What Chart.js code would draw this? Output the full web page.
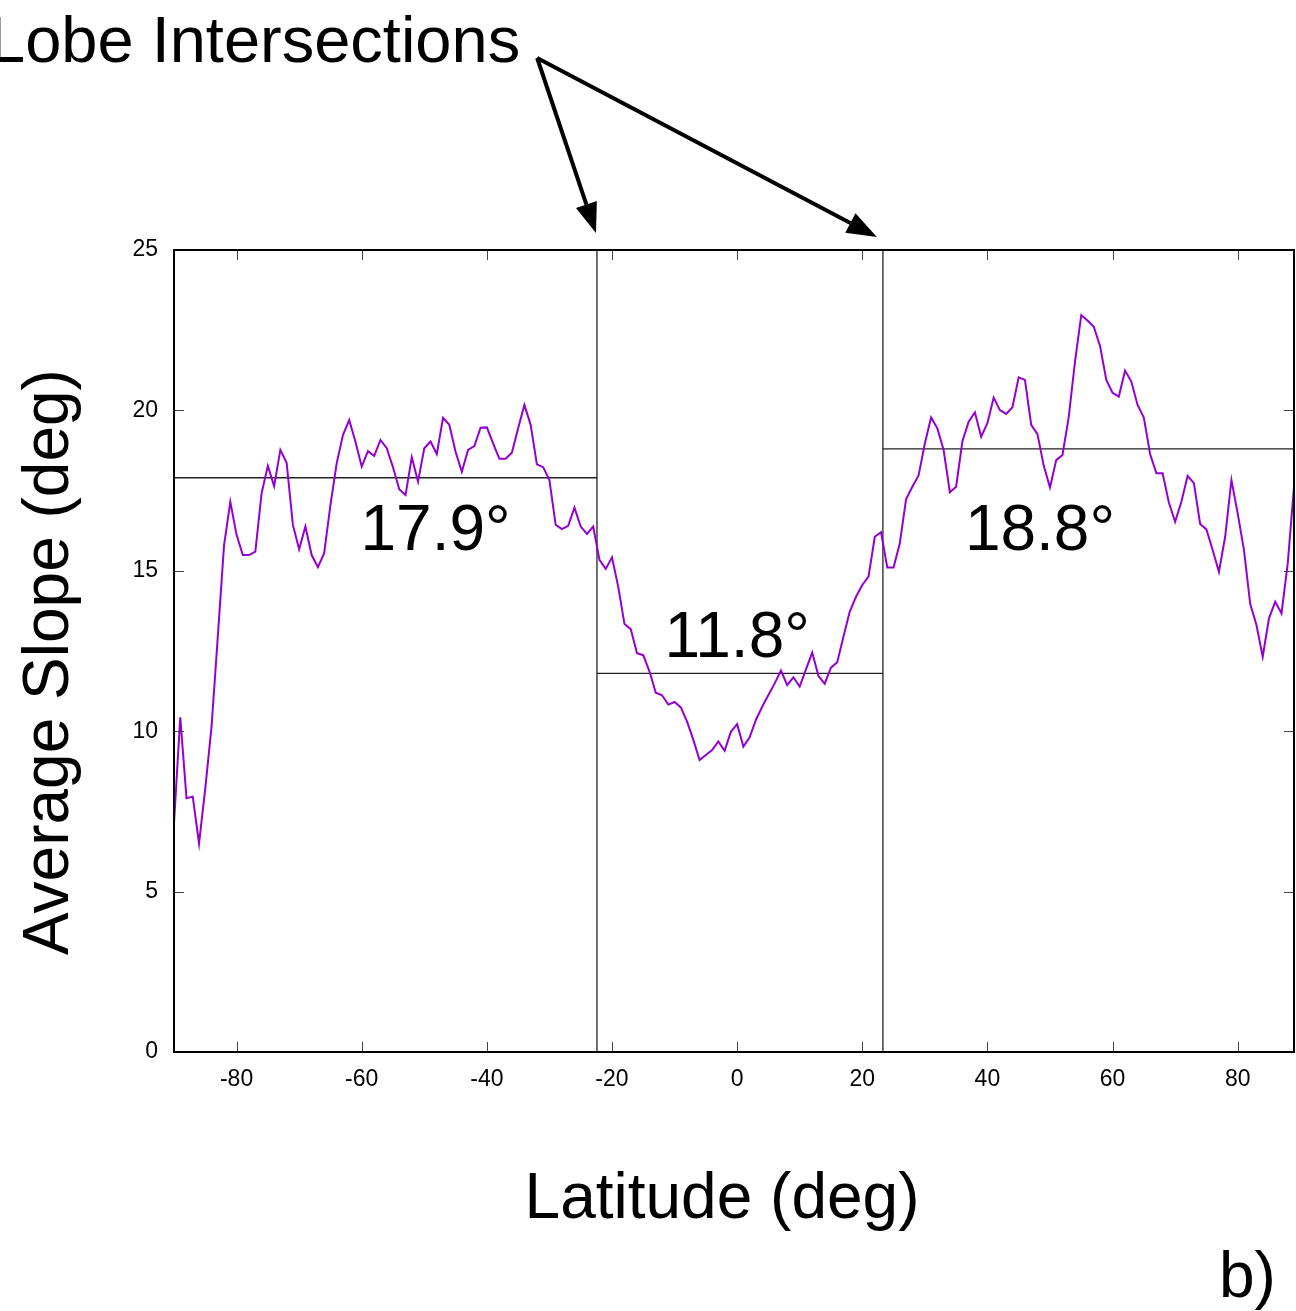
<!DOCTYPE html>
<html>
<head>
<meta charset="utf-8">
<title>Average Slope vs Latitude</title>
<script src="https://cdn.jsdelivr.net/npm/chart.js@4"></script>
<style>
  html, body { margin: 0; padding: 0; background: #fff; overflow: hidden; }
  #slope_lat { display: block; }
</style>
</head>
<body>
<canvas id="slope_lat" width="1296" height="1311"></canvas>
<script>
// latitude bins (deg)
const latitudes = [
  -90, -89, -88, -87, -86, -85, -84, -83, -82, -81, -80, -79, -78, -77, -76, -75, -74, -73, -72, -71,
  -70, -69, -68, -67, -66, -65, -64, -63, -62, -61, -60, -59, -58, -57, -56, -55, -54, -53, -52, -51,
  -50, -49, -48, -47, -46, -45, -44, -43, -42, -41, -40, -39, -38, -37, -36, -35, -34, -33, -32, -31,
  -30, -29, -28, -27, -26, -25, -24, -23, -22, -21, -20, -19, -18, -17, -16, -15, -14, -13, -12, -11,
  -10, -9, -8, -7, -6, -5, -4, -3, -2, -1, 0, 1, 2, 3, 4, 5, 6, 7, 8, 9,
  10, 11, 12, 13, 14, 15, 16, 17, 18, 19, 20, 21, 22, 23, 24, 25, 26, 27, 28, 29,
  30, 31, 32, 33, 34, 35, 36, 37, 38, 39, 40, 41, 42, 43, 44, 45, 46, 47, 48, 49,
  50, 51, 52, 53, 54, 55, 56, 57, 58, 59, 60, 61, 62, 63, 64, 65, 66, 67, 68, 69,
  70, 71, 72, 73, 74, 75, 76, 77, 78, 79, 80, 81, 82, 83, 84, 85, 86, 87, 88, 89
];

// average slope per latitude bin (deg)
const avgSlope = [
  7.13, 10.43, 7.91, 7.96, 6.50, 8.22, 10.14, 12.95, 15.80, 17.15, 16.12, 15.49, 15.49, 15.60, 17.42, 18.27, 17.64, 18.77, 18.37, 16.43,
  15.67, 16.38, 15.49, 15.11, 15.55, 17.05, 18.35, 19.23, 19.70, 19.02, 18.25, 18.73, 18.58, 19.08, 18.82, 18.23, 17.54, 17.36, 18.54, 17.78,
  18.82, 19.03, 18.64, 19.77, 19.55, 18.71, 18.09, 18.77, 18.89, 19.46, 19.47, 18.97, 18.49, 18.49, 18.68, 19.44, 20.17, 19.55, 18.32, 18.23,
  17.83, 16.43, 16.30, 16.40, 16.97, 16.38, 16.15, 16.38, 15.34, 15.06, 15.42, 14.50, 13.34, 13.18, 12.43, 12.37, 11.86, 11.20, 11.12, 10.83,
  10.91, 10.74, 10.30, 9.73, 9.10, 9.26, 9.41, 9.68, 9.39, 9.98, 10.22, 9.52, 9.81, 10.35, 10.76, 11.13, 11.49, 11.89, 11.44, 11.68,
  11.39, 11.93, 12.45, 11.72, 11.48, 11.98, 12.15, 12.95, 13.73, 14.19, 14.56, 14.82, 16.06, 16.20, 15.10, 15.10, 15.86, 17.23, 17.62, 17.97,
  18.97, 19.78, 19.44, 18.77, 17.45, 17.62, 19.03, 19.65, 19.94, 19.18, 19.60, 20.40, 20.01, 19.89, 20.10, 21.03, 20.95, 19.55, 19.26, 18.28,
  17.60, 18.45, 18.61, 19.80, 21.52, 22.97, 22.80, 22.61, 22.01, 20.95, 20.55, 20.43, 21.24, 20.90, 20.17, 19.78, 18.64, 18.04, 18.04, 17.13,
  16.53, 17.15, 17.96, 17.73, 16.46, 16.29, 15.65, 14.97, 16.06, 17.83, 16.79, 15.65, 13.97, 13.31, 12.32, 13.52, 14.04, 13.67, 15.23, 17.62
];

// lobe boundaries and mean slope inside each lobe
const lobeEdges = [-90, -22.4, 23.3, 89];
const lobeMeans = [17.9, 11.8, 18.8];

const xTickValues = [-80, -60, -40, -20, 0, 20, 40, 60, 80];
const yTickValues = [0, 5, 10, 15, 20, 25];

const FONT = '"Liberation Sans", Arial, Helvetica, sans-serif';

// where the mean labels sit (data units)
const meanLabelPos = [
  { lat: -48.2, val: 15.65 },
  { lat: 0, val: 12.3 },
  { lat: 48.4, val: 15.65 }
];

function drawArrow(ctx, x0, y0, x1, y1) {
  const ang = Math.atan2(y1 - y0, x1 - x0);
  const len = 30, half = 11;
  const bx = x1 - len * Math.cos(ang), by = y1 - len * Math.sin(ang);
  ctx.beginPath();
  ctx.moveTo(x0, y0);
  ctx.lineTo(bx, by);
  ctx.stroke();
  ctx.beginPath();
  ctx.moveTo(x1, y1);
  ctx.lineTo(bx + half * Math.sin(ang), by - half * Math.cos(ang));
  ctx.lineTo(bx - half * Math.sin(ang), by + half * Math.cos(ang));
  ctx.closePath();
  ctx.fill();
}

// frame, inward ticks, labels and arrows
const decorations = {
  id: 'decorations',
  afterDraw(chart) {
    const { ctx, chartArea: a, scales: { x, y } } = chart;
    ctx.save();

    ctx.strokeStyle = '#444';
    ctx.lineWidth = 1;
    ctx.beginPath();
    xTickValues.forEach(v => {
      const px = Math.round(x.getPixelForValue(v)) + 0.5;
      ctx.moveTo(px, a.bottom); ctx.lineTo(px, a.bottom - 10);
      ctx.moveTo(px, a.top); ctx.lineTo(px, a.top + 10);
    });
    yTickValues.slice(1, -1).forEach(v => {
      const py = Math.round(y.getPixelForValue(v)) + 0.5;
      ctx.moveTo(a.left, py); ctx.lineTo(a.left + 10, py);
      ctx.moveTo(a.right, py); ctx.lineTo(a.right - 10, py);
    });
    ctx.stroke();

    ctx.strokeStyle = '#000';
    ctx.lineWidth = 2;
    ctx.strokeRect(a.left, a.top, a.right - a.left, a.bottom - a.top);

    ctx.fillStyle = '#000';
    ctx.font = '64px ' + FONT;
    ctx.textBaseline = 'alphabetic';

    ctx.textAlign = 'center';
    lobeMeans.forEach((m, i) => {
      const p = meanLabelPos[i];
      ctx.fillText(m.toFixed(1) + '°', x.getPixelForValue(p.lat), y.getPixelForValue(p.val));
    });

    ctx.fillText('Latitude (deg)', 722, 1218);

    ctx.save();
    ctx.translate(68, 662);
    ctx.rotate(-Math.PI / 2);
    ctx.fillText('Average Slope (deg)', 0, 0);
    ctx.restore();

    ctx.textAlign = 'left';
    ctx.fillText('b)', 1219, 1297);

    const title = 'Lobe Intersections';
    ctx.font = '65px ' + FONT;
    ctx.fillText(title, -11, 62);
    const titleEnd = -11 + ctx.measureText(title).width;

    ctx.lineWidth = 4;
    ctx.lineCap = 'butt';
    const sx = titleEnd + 17, sy = 58;
    drawArrow(ctx, sx, sy, x.getPixelForValue(lobeEdges[1]) - 1, a.top - 17);
    drawArrow(ctx, sx, sy, x.getPixelForValue(lobeEdges[2]) - 6, a.top - 13);

    ctx.restore();
  }
};

const slopePoints = latitudes.map((lat, i) => ({ x: lat, y: avgSlope[i] }));

const meanSets = lobeMeans.map((m, i) => ({
  data: [{ x: lobeEdges[i], y: m }, { x: lobeEdges[i + 1], y: m }],
  borderColor: '#222',
  borderWidth: 1.3,
  pointRadius: 0
}));

const lobeSets = lobeEdges.slice(1, -1).map(e => ({
  data: [{ x: e, y: 0 }, { x: e, y: 25 }],
  borderColor: '#222',
  borderWidth: 1.3,
  pointRadius: 0
}));

const ctx = document.getElementById('slope_lat').getContext('2d');
new Chart(ctx, {
  type: 'line',
  data: {
    datasets: [
      {
        label: 'Average slope',
        data: slopePoints,
        borderColor: '#9400d3',
        borderWidth: 2,
        pointRadius: 0,
        tension: 0
      },
      ...meanSets,
      ...lobeSets
    ]
  },
  options: {
    responsive: false,
    animation: false,
    layout: { padding: { top: 250, right: 2, left: 0, bottom: 0 } },
    plugins: {
      legend: { display: false },
      tooltip: { enabled: false }
    },
    scales: {
      x: {
        type: 'linear',
        min: -90,
        max: 89,
        afterBuildTicks: s => { s.ticks = xTickValues.map(v => ({ value: v })); },
        afterFit: s => { s.height = 259; },
        grid: { display: false },
        border: { display: false },
        ticks: { color: '#000', font: { family: FONT, size: 23 }, padding: 6, maxRotation: 0, autoSkip: false }
      },
      y: {
        type: 'linear',
        min: 0,
        max: 25,
        afterBuildTicks: s => { s.ticks = yTickValues.map(v => ({ value: v })); },
        afterFit: s => { s.width = 174; },
        grid: { display: false },
        border: { display: false },
        ticks: { color: '#000', font: { family: FONT, size: 23 }, padding: 8, autoSkip: false }
      }
    }
  },
  plugins: [decorations]
});
</script>
</body>
</html>
